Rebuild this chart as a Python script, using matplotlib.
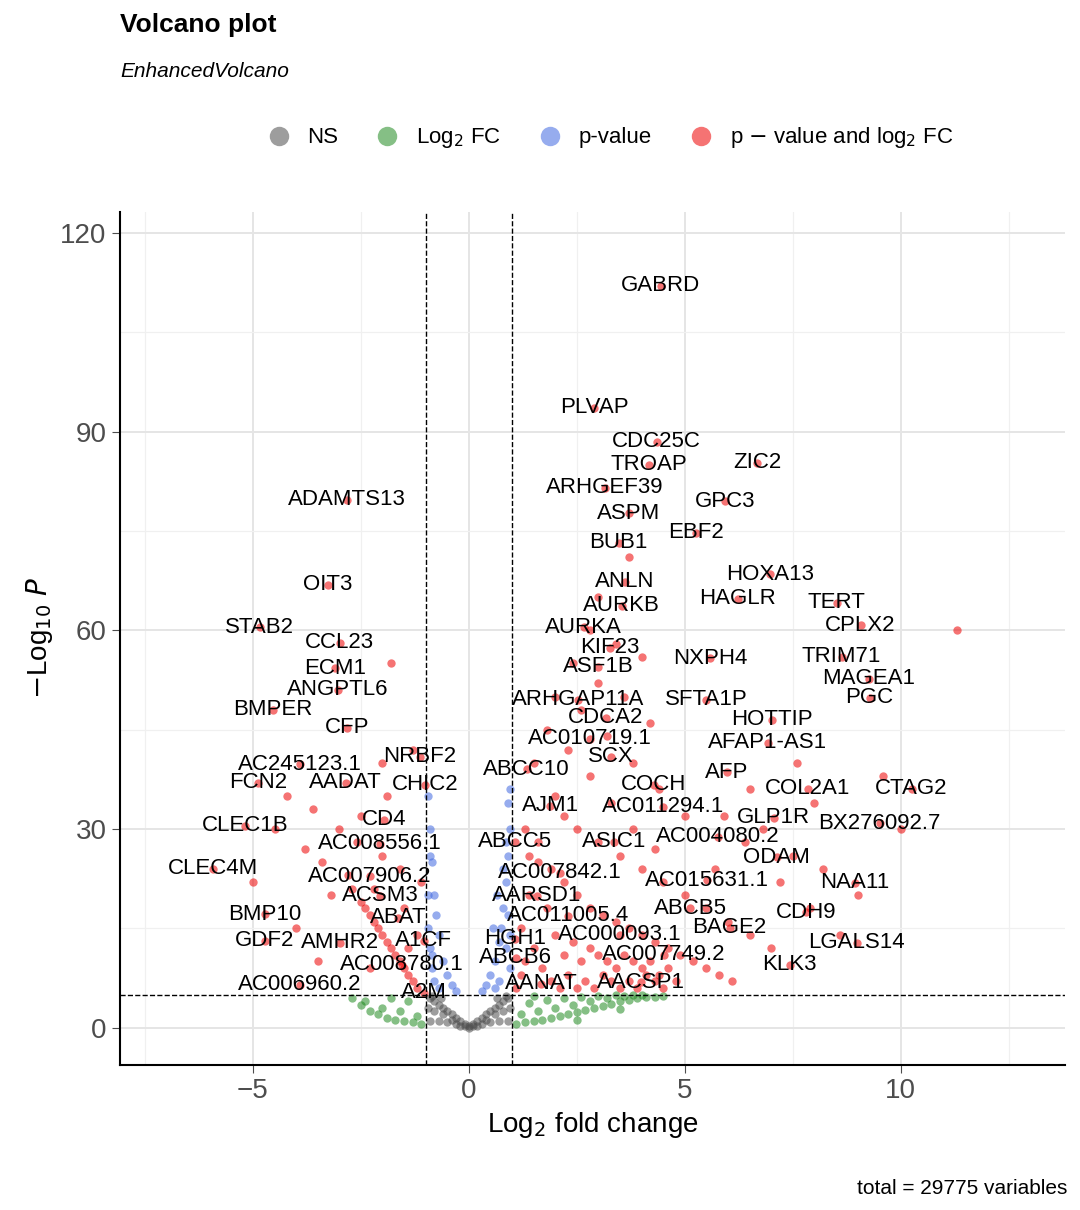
import matplotlib.pyplot as plt

plt.rcParams['font.family'] = ['Liberation Sans', 'DejaVu Sans']

# labelled genes: name, log2FC, -log10 P
genes = ['GABRD', 'PLVAP', 'CDC25C', 'TROAP', 'ZIC2', 'ARHGEF39', 'ADAMTS13', 'GPC3', 'ASPM', 'EBF2',
         'BUB1', 'HOXA13', 'ANLN', 'OIT3', 'HAGLR', 'TERT', 'AURKB', 'STAB2', 'CPLX2', 'AURKA',
         'CCL23', 'KIF23', 'NXPH4', 'TRIM71', 'ASF1B', 'ECM1', 'MAGEA1', 'ANGPTL6', 'PGC', 'ARHGAP11A',
         'SFTA1P', 'BMPER', 'HOTTIP', 'CDCA2', 'CFP', 'AC010719.1', 'AFAP1-AS1', 'NRBF2', 'AC245123.1', 'SCX',
         'ABCC10', 'AFP', 'FCN2', 'AADAT', 'CHIC2', 'COCH', 'COL2A1', 'CTAG2', 'AJM1', 'AC011294.1',
         'GLP1R', 'CD4', 'BX276092.7', 'CLEC1B', 'ABCC5', 'ASIC1', 'AC004080.2', 'AC008556.1', 'ODAM', 'CLEC4M',
         'AC007842.1', 'AC007906.2', 'AC015631.1', 'NAA11', 'ACSM3', 'AARSD1', 'ABCB5', 'CDH9', 'BMP10', 'ABAT',
         'AC011005.4', 'BAGE2', 'AC000093.1', 'GDF2', 'AMHR2', 'A1CF', 'HGH1', 'LGALS14', 'ABCB6', 'AC007749.2',
         'AC008780.1', 'KLK3', 'AANAT', 'AACSP1', 'AC006960.2', 'A2M']
gene_x = [4.44, 2.9, 4.35, 4.17, 6.67, 3.15, -2.82, 5.93, 3.7, 5.25,
          3.47, 6.97, 3.61, -3.26, 6.23, 8.52, 3.54, -4.84, 9.07, 2.66,
          -2.99, 3.26, 5.58, 8.63, 2.99, -3.1, 9.26, -3.03, 9.28, 2.52,
          5.49, -4.54, 7.01, 3.17, -2.82, 2.8, 6.92, -1.13, -3.91, 3.29,
          1.34, 5.97, -4.88, -2.85, -1.02, 4.28, 7.85, 10.25, 1.88, 4.49,
          7.06, -1.97, 9.51, -5.19, 1.06, 3.36, 5.76, -2.06, 7.13, -5.93,
          2.1, -2.29, 5.51, 8.94, -2.06, 1.57, 5.12, 7.8, -4.72, -1.64,
          2.29, 6.04, 3.5, -4.72, -2.99, -1.04, 1.06, 8.98, 1.09, 4.51,
          -1.55, 7.43, 1.67, 3.98, -3.91, -1.04]
gene_y = [112, 93.6, 88.5, 85, 85.3, 81.5, 79.7, 79.5, 77.7, 74.7,
          73.2, 68.5, 67.3, 66.9, 64.8, 64.2, 63.7, 60.5, 60.8, 60.5,
          58.1, 57.4, 55.8, 56, 54.5, 54.3, 52.7, 51, 49.8, 49.5,
          49.5, 48, 46.5, 46.8, 45.3, 43.6, 43, 40.9, 39.8, 40.9,
          39, 38.6, 37, 37, 36.7, 36.7, 36.1, 36.1, 33.5, 33.4,
          31.7, 31.4, 30.9, 30.5, 28.1, 28.1, 28.8, 27.8, 25.7, 24,
          23.4, 22.9, 22.3, 21.9, 19.9, 19.9, 18, 17.4, 17.1, 16.6,
          16.9, 15.1, 14, 13.1, 12.8, 13.1, 13.4, 12.8, 10.6, 11,
          9.5, 9.5, 6.6, 6.9, 6.5, 5.3]

# unlabelled points
ns_x = [-0.9, -0.8, -0.7, -0.6, -0.5, -0.4, -0.3, -0.2, -0.1, 0.0, 0.1, 0.2, 0.3, 0.4, 0.5, 0.6, 0.7, 0.8, 0.9,
        -0.9, -0.7, -0.5, -0.3, -0.1, 0.1, 0.3, 0.5, 0.7, 0.9, -0.8, -0.6, -0.4, 0.4, 0.6, 0.8, -0.95, 0.95,
        -0.85, 0.85, -0.65, 0.65, -0.2, 0.2, 0.0]
ns_y = [4.5, 4.0, 3.5, 3.0, 2.5, 2.0, 1.5, 1.0, 0.5, 0.2, 0.5, 1.0, 1.5, 2.0, 2.5, 3.0, 3.5, 4.0, 4.5,
        1.0, 1.0, 0.8, 0.6, 0.3, 0.3, 0.6, 0.8, 1.0, 1.0, 2.5, 2.0, 1.2, 1.2, 2.0, 2.5, 3.0, 3.0,
        4.8, 4.8, 4.5, 4.5, 0.2, 0.2, 0.0]
fc_x = [-2.7, -2.5, -2.3, -2.1, -1.9, -1.7, -1.5, -1.3, -1.1, -2.4, -2.0, -1.6, -1.2, -1.8, -1.4,
        1.1, 1.3, 1.5, 1.7, 1.9, 2.1, 2.3, 2.5, 2.7, 2.9, 3.1, 3.3, 3.5, 3.7, 3.9, 4.1, 4.3, 4.5,
        1.2, 1.6, 2.0, 2.4, 2.8, 3.2, 3.6, 4.0, 1.4, 1.8, 2.2, 2.6, 3.0, 3.4, 3.8, 1.5, 2.5, 3.5]
fc_y = [4.5, 3.5, 2.5, 2.0, 1.5, 1.2, 1.0, 0.8, 0.6, 4.0, 3.0, 2.5, 1.8, 4.5, 4.0,
        0.5, 0.8, 1.0, 1.2, 1.5, 1.8, 2.0, 2.3, 2.6, 3.0, 3.3, 3.6, 4.0, 4.2, 4.5, 4.6, 4.7, 4.8,
        2.0, 2.5, 3.0, 3.5, 4.0, 4.5, 4.8, 4.9, 3.8, 4.2, 4.5, 4.7, 4.8, 4.9, 4.9, 4.8, 1.2, 2.8]
p_x = [-0.95, -0.9, -0.85, -0.8, -0.75, -0.7, -0.6, -0.5, -0.4, -0.3, -0.95, -0.9, -0.85, -0.8, -0.9,
       -0.95, -0.7, -0.85, 0.3, 0.4, 0.5, 0.6, 0.7, 0.75, 0.8, 0.85, 0.9, 0.95, 0.9, 0.95, 0.85, 0.8,
       0.95, 0.9, 0.7, 0.6, 0.95, 0.85, 0.65, 0.55]
p_y = [35, 30, 25, 20, 17, 14, 10, 8, 6.5, 5.5, 20, 12, 9, 7, 26, 15, 6, 11, 5.5, 6.5, 8, 10, 13, 15, 18, 22,
       26, 30, 34, 36, 28, 24, 14, 17, 7, 6, 9, 12, 20, 15]
both_x = [1.1, 1.2, 1.3, 1.5, 1.7, 1.9, 2.1, 2.3, 2.5, 2.7, 2.9, 3.1, 3.3, 3.5, 3.7, 3.9, 4.1, 4.3, 4.5,
          1.2, 1.4, 1.6, 1.8, 2.0, 2.2, 2.4, 2.6, 2.8, 3.0, 3.2, 3.4, 3.6, 3.8, 4.0, 4.2, 4.4, 4.6, 4.8,
          1.3, 1.6, 1.9, 2.2, 2.5, 2.8, 3.1, 3.4, 3.7, 4.0, 4.3, 4.6, 4.9, 5.2, 5.5, 5.8, 6.1,
          1.5, 2.0, 2.5, 3.0, 3.5, 4.0, 4.5, 5.0, 5.5, 6.0, 6.5, 7.0, 1.8, 2.3, 2.8, 3.3, 3.8, 4.3,
          2.0, 2.6, 3.2, 3.8, 4.4, 5.0, 2.4, 3.0, 3.6, 4.2, 2.8, 3.4, 4.0, 3.0, 3.7, 1.4, 2.2,
          6.8, 7.5, 8.2, 9.0, 9.6, 11.3, 8.0, 7.2, 6.4, 5.7, 7.9, 8.6, 10.0, 6.5, 5.9, 7.6,
          -1.2, -1.4, -1.6, -1.8, -2.0, -2.2, -2.4, -1.3, -1.5, -1.7, -1.9, -2.1, -2.3, -2.5, -2.7,
          -1.1, -1.6, -2.0, -2.6, -3.0, -3.4, -1.5, -2.2, -2.8, -3.2, -3.8, -1.9, -2.5, -3.6, -4.2,
          -1.3, -2.0, -1.8, -4.0, -4.5, -5.0, -3.5, -2.3, -1.4, -1.2]
both_y = [6, 8, 10, 12, 9, 7, 6, 8, 6, 7, 6, 8, 7, 6, 7, 6, 8, 7, 6,
          15, 20, 25, 18, 14, 11, 13, 10, 12, 11, 10, 9, 11, 10, 9, 10, 8, 9, 7,
          30, 28, 24, 22, 20, 18, 17, 16, 15, 14, 13, 12, 11, 10, 9, 8, 7,
          40, 35, 30, 28, 26, 24, 22, 20, 18, 16, 14, 12, 45, 42, 38, 34, 30, 27,
          50, 48, 44, 40, 36, 32, 55, 52, 50, 46, 60, 58, 56, 65, 71, 26, 32,
          30, 26, 24, 20, 38, 60, 34, 22, 28, 24, 18, 14, 30, 36, 32, 40,
          6, 8, 10, 12, 14, 16, 18, 7, 9, 11, 13, 15, 17, 19, 21,
          22, 24, 26, 28, 30, 25, 18, 21, 23, 20, 27, 35, 32, 33, 35,
          42, 40, 55, 15, 30, 22, 10, 9, 12, 14]

fig = plt.figure(figsize=(10.8, 12.1), dpi=100)
ax = fig.add_axes([0.111, 0.120, 0.875, 0.705])

style = dict(s=36, alpha=0.55, linewidths=0)
ax.scatter(ns_x, ns_y, color='#4d4d4d', **style)
ax.scatter(fc_x, fc_y, color='forestgreen', **style)
ax.scatter(p_x, p_y, color='royalblue', **style)
ax.scatter(both_x, both_y, color='#ee0000', **style)
ax.scatter(gene_x, gene_y, color='#ee0000', **style)

for g, x, y in zip(genes, gene_x, gene_y):
    ax.text(x, y, g, ha='center', va='center', fontsize=16, color='black')

for v in (-1, 1):
    ax.axvline(v, color='black', ls='--', lw=1)
ax.axhline(5, color='black', ls='--', lw=1)

ax.set_xlim(-8.08, 13.8)
ax.set_ylim(-5.6, 123.2)
ax.set_xticks([-5, 0, 5, 10])
ax.set_yticks([0, 30, 60, 90, 120])
ax.set_xticks([-7.5, -2.5, 2.5, 7.5, 12.5], minor=True)
ax.set_yticks([15, 45, 75, 105], minor=True)
ax.grid(True, which='major', color='#e5e5e5', lw=1.4)
ax.grid(True, which='minor', color='#f0f0f0', lw=0.9)
ax.set_axisbelow(True)
for s in ('top', 'right'):
    ax.spines[s].set_visible(False)
for s in ('left', 'bottom'):
    ax.spines[s].set_linewidth(1.5)
ax.tick_params(which='major', labelsize=20, colors='#4d4d4d', length=6)
ax.tick_params(which='minor', length=0)
ax.set_xlabel('Log$_2$ fold change', fontsize=20)
ax.set_ylabel('$-$Log$_{10}$ $\\it{P}$', fontsize=20)

fig.text(0.111, 0.979, 'Volcano plot', fontsize=19, fontweight='bold', va='center')
fig.text(0.111, 0.941, 'EnhancedVolcano', fontsize=15, style='italic', va='center')

labels = ['NS', 'Log$_2$ FC', 'p-value', 'p $-$ value and log$_2$ FC']
cols = ['#4d4d4d', 'forestgreen', 'royalblue', '#ee0000']
handles = [plt.Line2D([], [], ls='', marker='o', markersize=14, color=c, alpha=0.55, markeredgewidth=0) for c in cols]
fig.legend(handles, labels, loc='center', bbox_to_anchor=(0.56, 0.886), ncol=4, frameon=False,
           fontsize=16, handletextpad=0.3, columnspacing=1.2)

fig.text(0.988, 0.018, 'total = 29775 variables', fontsize=15, ha='right', va='center')

fig.savefig('out.png', dpi=100)
